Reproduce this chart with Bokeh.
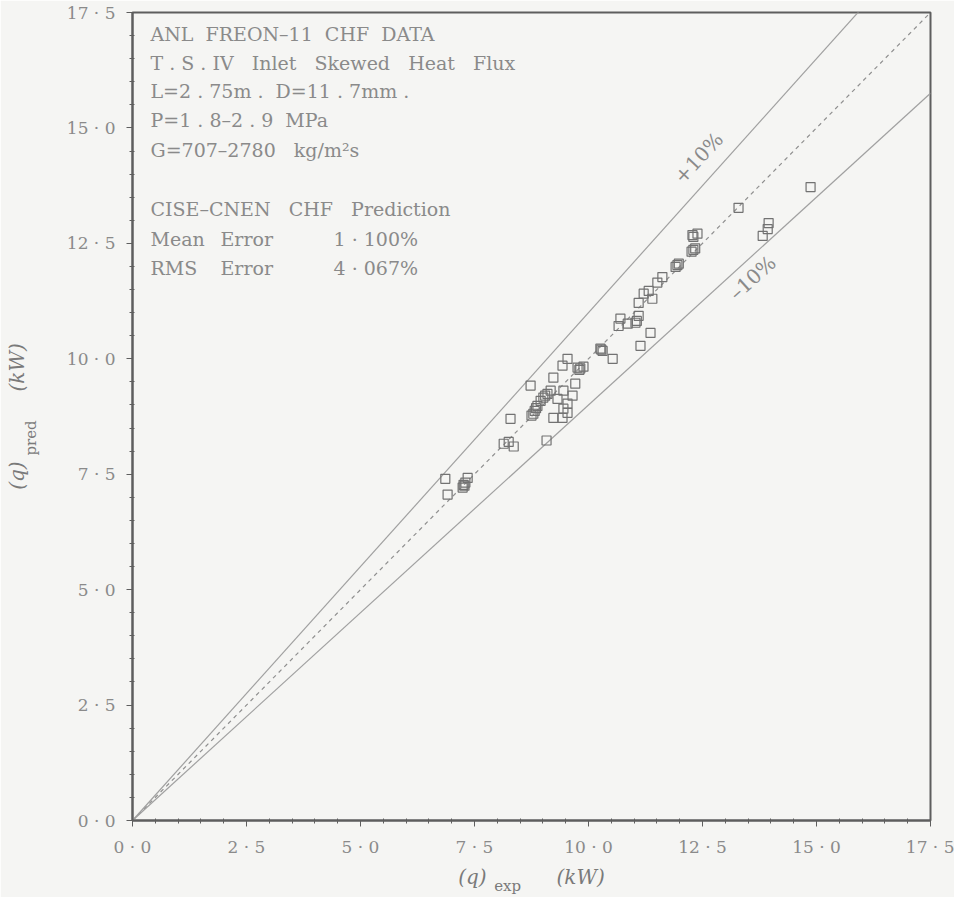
import math
from bokeh.plotting import figure
from bokeh.models import Label, FixedTicker, Range1d, LinearAxis
from bokeh.embed import file_html
from bokeh.resources import INLINE

# ---- data ----
q_exp = [14.87, 13.29, 13.95, 13.93, 13.82, 12.39, 12.30, 12.30, 12.26, 11.95,
         11.91, 11.62, 11.51, 11.32, 11.21, 11.10, 11.40, 10.70, 10.86, 11.03,
         11.10, 10.66, 11.36, 11.14, 10.26, 10.31, 10.53, 9.54, 9.43, 9.76,
         9.80, 9.89, 9.23, 9.71, 8.73, 9.17, 9.10, 9.01, 8.95, 8.88,
         8.82, 8.79, 8.75, 9.45, 9.65, 9.32, 9.54, 9.45, 9.54, 9.23,
         9.43, 8.29, 8.14, 8.36, 8.25, 9.08, 6.86, 6.91, 7.26, 7.30,
         7.35, 7.24, 12.34, 11.98, 9.05, 8.85, 7.28, 9.82, 10.28, 11.06, 12.28]
q_pred = [13.72, 13.27, 12.94, 12.81, 12.66, 12.71, 12.64, 12.36, 12.32, 12.03,
          11.99, 11.77, 11.65, 11.47, 11.41, 11.21, 11.30, 10.87, 10.76, 10.78,
          10.93, 10.71, 10.56, 10.28, 10.22, 10.17, 10.00, 10.00, 9.85, 9.81,
          9.76, 9.83, 9.59, 9.46, 9.42, 9.31, 9.24, 9.16, 9.09, 8.98,
          8.87, 8.81, 8.77, 9.31, 9.20, 9.13, 9.03, 8.92, 8.83, 8.72,
          8.72, 8.70, 8.16, 8.10, 8.20, 8.23, 7.40, 7.06, 7.27, 7.32,
          7.42, 7.21, 12.39, 12.06, 9.20, 8.93, 7.25, 9.79, 10.20, 10.82, 12.68]

ref_factors = [1.0, 1.1, 0.9]          # y = x, +10 %, -10 %
ref_x = [0.0, 17.5]

NB = "\u00a0"
major_ticks = [0.0, 2.5, 5.0, 7.5, 10.0, 12.5, 15.0, 17.5]
tick_labels = ["0 · 0", "2 · 5", "5 · 0", "7 · 5", "10 · 0", "12 · 5", "15 · 0", "17 · 5"]
minor_ticks = [i * 0.5 for i in range(36) if (i * 0.5) % 2.5 != 0]

info_lines = ["ANL  FREON–11  CHF  DATA",
              "T . S . IV   Inlet   Skewed   Heat   Flux",
              "L=2 . 75m .  D=11 . 7mm .",
              "P=1 . 8–2 . 9  MPa",
              "G=707–2780   kg/m²s",
              "CISE–CNEN   CHF   Prediction"]
err_names = ["Mean", "RMS"]
err_values = ["1 · 100%", "4 · 067%"]

axis_main_text = "(q)" + NB * 11 + "(kW)"
x_sub_text = "exp" + NB * 10
y_sub_text = "pred" + NB * 9

BG = "#f5f5f3"
TXT = "#8a8a8a"
LBL = "#7a7a7a"
AX = "#5e5e5e"
SERIF = "DejaVu Serif"

p = figure(width=954, height=897, output_backend="svg", toolbar_location=None,
           x_range=Range1d(0, 17.5), y_range=Range1d(0, 17.5),
           min_border_left=132, min_border_top=12, min_border_right=24, min_border_bottom=77,
           background_fill_color=BG, border_fill_color=BG)
p.grid.visible = False
p.outline_line_color = AX
p.outline_line_width = 2

ticker = FixedTicker(ticks=major_ticks, minor_ticks=minor_ticks)
overrides = {t: s.replace(" ", NB) for t, s in zip(major_ticks, tick_labels)}
for ax in (p.xaxis[0], p.yaxis[0]):
    ax.ticker = ticker
    ax.major_label_overrides = overrides
    ax.axis_line_color = AX
    ax.axis_line_width = 2
    ax.major_tick_line_color = AX
    ax.minor_tick_line_color = AX
    ax.major_tick_out = 6
    ax.major_tick_in = 0
    ax.minor_tick_out = 3
    ax.minor_tick_in = 2
    ax.major_label_text_font = SERIF
    ax.major_label_text_font_size = "17px"
    ax.major_label_text_color = TXT
    ax.axis_label_text_font = SERIF
    ax.axis_label_text_color = LBL
p.xaxis.major_label_standoff = 10
p.yaxis.major_label_standoff = 11

# x: main label "(q) (kW)" on the main axis, subscript on a bare second axis below
p.xaxis.axis_label = axis_main_text
p.xaxis.axis_label_text_font_size = "20px"
p.xaxis.axis_label_text_font_style = "italic"
p.xaxis.axis_label_standoff = 5

# y: subscript on the main axis, "(q) (kW)" on a bare second axis further left
p.yaxis.axis_label = y_sub_text
p.yaxis.axis_label_text_font_size = "15px"
p.yaxis.axis_label_text_font_style = "normal"
p.yaxis.axis_label_standoff = 24


def bare_axis(label, size, style, standoff):
    a = LinearAxis(ticker=FixedTicker(ticks=[]), axis_line_color=None,
                   major_tick_line_color=None, minor_tick_line_color=None,
                   major_tick_out=0, major_tick_in=0, minor_tick_out=0, minor_tick_in=0,
                   major_label_standoff=0, axis_label=label,
                   axis_label_text_font=SERIF, axis_label_text_font_size=size,
                   axis_label_text_font_style=style, axis_label_text_color=LBL,
                   axis_label_standoff=standoff)
    return a

p.add_layout(bare_axis(x_sub_text, "15px", "normal", -15), "below")
p.add_layout(bare_axis(axis_main_text, "20px", "italic", -10), "left")

# reference lines
p.line(ref_x, [ref_factors[0] * v for v in ref_x], line_color="#8f8f8f", line_width=1.2, line_dash="4 4")
p.line(ref_x, [ref_factors[1] * v for v in ref_x], line_color="#a0a0a0", line_width=1.2)
p.line(ref_x, [ref_factors[2] * v for v in ref_x], line_color="#a0a0a0", line_width=1.2)

# data
p.scatter(q_exp, q_pred, marker="square", size=9, fill_color=None,
          line_color="#727272", line_width=1.2)

def lab(x, y, text, size="19px", style="normal", angle=0.0, align="left", color=TXT):
    p.add_layout(Label(x=x, y=y, text=text.replace(" ", NB), text_font=SERIF,
                       text_font_size=size, text_font_style=style, text_color=color,
                       angle=angle, text_align=align, text_baseline="middle"))

def px2x(px):
    return (px - 132) / 45.6

def py2y(py):
    return (820 - py) / 46.2

line_y = [33, 62, 90, 119, 149, 208]
for t, yy in zip(info_lines, line_y):
    lab(px2x(150), py2y(yy), t)
for name, val, yy in zip(err_names, err_values, [238, 267]):
    lab(px2x(150), py2y(yy), name)
    lab(px2x(220), py2y(yy), "Error")
    lab(px2x(333), py2y(yy), val)

# band labels
lab(px2x(698), py2y(157), "+10%", size="20px", angle=math.radians(47), align="center")
lab(px2x(752), py2y(277), "–10%", size="20px", angle=math.radians(42), align="center")

open("out.html", "w").write(file_html(p, INLINE))
